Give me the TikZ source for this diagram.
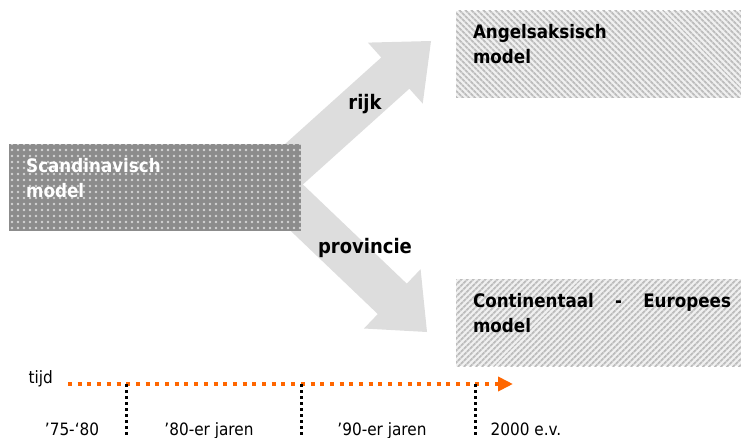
\documentclass[tikz,border=0pt]{standalone}
\usepackage{fontspec}
\setmainfont{DejaVu Sans Condensed}
\usetikzlibrary{arrows.meta,patterns.meta,calc,positioning}

\definecolor{arrowgray}{HTML}{DDDDDD}
\definecolor{dotgray}{HTML}{8C8C8C}
\definecolor{dotlight}{HTML}{D4D4D4}
\definecolor{hatchgray}{HTML}{BDBDBD}
\definecolor{hatchlight}{HTML}{F0F0F0}
\definecolor{timeorange}{HTML}{FF6600}

% broad grey arrow: #1 = tail, #2 = tip
\newcommand\blockarrow[2]{%
  \coordinate (hb) at ($(#2)!48pt!(#1)$);
  \fill[arrowgray] ($(#1)!21pt!90:(#2)$) -- ($(hb)!21pt!90:(#2)$)
    -- ($(hb)!41pt!90:(#2)$) -- (#2) -- ($(hb)!41pt!-90:(#2)$)
    -- ($(hb)!21pt!-90:(#2)$) -- ($(#1)!21pt!-90:(#2)$) -- cycle;
}

\tikzset{
  modelbox/.style={anchor=north west, font=\fontsize{18.6}{25}\selectfont\bfseries,
    text width=258pt, align=left, inner xsep=17pt, inner ysep=0pt,
    text height=28pt, text depth=59pt},
  dotbox/.style={modelbox, text=white, preaction={fill=dotgray},
    pattern={Dots[distance=6pt,radius=1.3pt]}, pattern color=dotlight},
  hatchbox/.style={modelbox, preaction={fill=hatchlight},
    pattern={Lines[angle=#1,distance=4pt,line width=2pt]}, pattern color=hatchgray},
  pathlabel/.style={anchor=base, font=\fontsize{20}{22}\selectfont\bfseries},
  timelabel/.style={anchor=base, font=\fontsize{17}{20}\selectfont},
  timeline/.style={timeorange, line width=4pt, dash pattern=on 4pt off 5.7pt,
    -{Triangle[length=15pt,width=14pt]}},
  divider/.style={black, line width=3pt, dash pattern=on 3pt off 3pt},
}

\begin{document}
\begin{tikzpicture}[x=1pt,y=-1pt]
  \useasboundingbox (0,0) rectangle (741,438);

  % where both arrows leave, hidden behind the box
  \coordinate (split) at (272,184);
  \coordinate (rijktip) at (431,41);
  \coordinate (provtip) at (427,332);

  \blockarrow{split}{rijktip}
  \blockarrow{split}{provtip}

  \node[dotbox] (scand) at (9,144) {Scandinavisch\\model};
  \node[hatchbox=-45] (angel) at (455,10) {Angelsaksisch\\model};
  \node[hatchbox=45] (cont) at (455,278) {Continentaal \hfill - \hfill Europees\\model};

  \node[pathlabel] (rijk) at (365,110) {rijk};
  \node[pathlabel] (prov) at (365,254) {provincie};

  % time axis
  \coordinate (t0) at (68,384);
  \coordinate (t1) at (513,384);
  \node[timelabel, anchor=base west] (tijd) at (25,383) {tijd};
  \draw[timeline] (t0) -- (t1);

  \foreach \x in {126,301,475}
    \draw[divider] (\x,384) -- (\x,438);

  \foreach \x/\txt in {72/’75-‘80, 209/’80-er jaren, 382/’90-er jaren, 526/2000 e.v.}
    \node[timelabel] (era-\x) at (\x,435) {\txt};

\end{tikzpicture}
\end{document}
